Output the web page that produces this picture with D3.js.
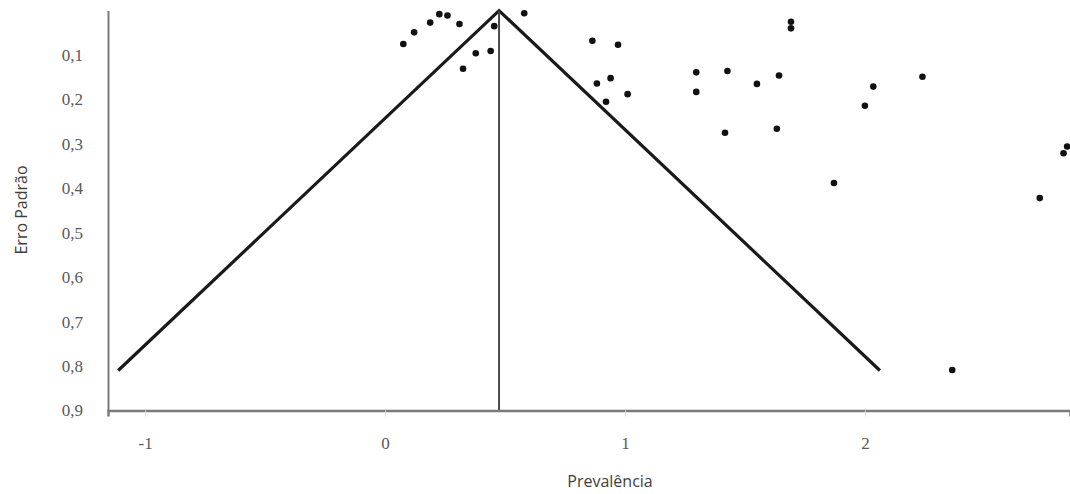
<!DOCTYPE html>
<html>
<head>
<meta charset="utf-8">
<script src="https://cdn.jsdelivr.net/npm/d3@7"></script>
<style>
  html, body { margin: 0; padding: 0; background: #fff; overflow: hidden; }
  svg { display: block; }
</style>
</head>
<body>
<svg id="chart" width="1070" height="494"></svg>
<script>
// Study estimates: prevalence (x) and standard error (y)
const prevalence = [
  0.076, 0.121, 0.188, 0.226, 0.26, 0.31, 0.455, 0.58, 0.378, 0.44, 0.325,
  0.864, 0.971, 0.883, 0.94, 1.011, 0.921, 1.297, 1.297, 1.427, 1.55, 1.642, 1.692, 1.692,
  1.417, 1.633,
  2.035, 2.0, 2.24, 1.871, 2.729, 2.828, 2.843, 2.364
];
const stdError = [
  0.075, 0.049, 0.027, 0.008, 0.011, 0.03, 0.035, 0.006, 0.096, 0.091, 0.131,
  0.068, 0.077, 0.164, 0.152, 0.188, 0.205, 0.139, 0.183, 0.136, 0.165, 0.146, 0.04, 0.025,
  0.275, 0.266,
  0.171, 0.214, 0.149, 0.388, 0.422, 0.321, 0.306, 0.809
];
const pooledMean = 0.475;
const funnelMaxSE = 0.81;
const xTicks = [-1, 0, 1, 2];
const yTicks = [0.1, 0.2, 0.3, 0.4, 0.5, 0.6, 0.7, 0.8, 0.9];

const svg = d3.select("#chart");
const margin = { left: 108, right: 0, top: 10.6, bottom: 83.5 };
const width = 1070, height = 494;

const x = d3.scaleLinear().domain([-1.155, 2.855]).range([margin.left, width - margin.right]);
const y = d3.scaleLinear().domain([0, 0.9]).range([margin.top, height - margin.bottom]);

const fmt = d => String(d).replace(".", ",");

// funnel
const funnel = [
  [pooledMean - 1.96 * funnelMaxSE, funnelMaxSE],
  [pooledMean, 0],
  [pooledMean + 1.96 * funnelMaxSE, funnelMaxSE]
];
svg.append("path")
  .attr("d", d3.line().x(d => x(d[0])).y(d => y(d[1]))(funnel))
  .attr("fill", "none")
  .attr("stroke", "#1a1a1a")
  .attr("stroke-width", 3.2);

// pooled mean line
svg.append("line")
  .attr("x1", x(pooledMean)).attr("x2", x(pooledMean))
  .attr("y1", y(0)).attr("y2", y(0.9))
  .attr("stroke", "#4a4a4a")
  .attr("stroke-width", 2);

// y axis
const yAxis = svg.append("g")
  .attr("transform", `translate(${margin.left},0)`)
  .attr("font-family", "Liberation Serif")
  .attr("font-size", 17)
  .call(d3.axisLeft(y).tickValues(yTicks).tickFormat(fmt).tickSize(0).tickPadding(25));
yAxis.attr("font-family", "Liberation Serif").attr("font-size", 17);
yAxis.select(".domain").attr("stroke", "#7a7a7a").attr("stroke-width", 2);
yAxis.selectAll(".tick text").attr("fill", "#595959");

// x axis
const xAxis = svg.append("g")
  .attr("transform", `translate(0,${y(0.9)})`)
  .call(d3.axisBottom(x).tickValues(xTicks).tickFormat(d => d).tickSize(6).tickPadding(20));
xAxis.attr("font-family", "Liberation Serif").attr("font-size", 17);
xAxis.select(".domain").attr("stroke", "#7a7a7a").attr("stroke-width", 2.5);
xAxis.selectAll(".tick line").attr("stroke", "#dcdcdc");
xAxis.selectAll(".tick text").attr("fill", "#595959");

// points
svg.append("g")
  .selectAll("circle")
  .data(prevalence.map((p, i) => [p, stdError[i]]))
  .join("circle")
  .attr("cx", d => x(d[0]))
  .attr("cy", d => y(d[1]))
  .attr("r", 3.3)
  .attr("fill", "#111");

// titles
svg.append("text")
  .attr("x", 610).attr("y", 487)
  .attr("text-anchor", "middle")
  .attr("font-family", "Open Sans")
  .attr("font-size", 16)
  .attr("fill", "#404040")
  .text("Prevalência");

svg.append("text")
  .attr("transform", "translate(27,210) rotate(-90)")
  .attr("text-anchor", "middle")
  .attr("font-family", "Open Sans")
  .attr("font-size", 16)
  .attr("fill", "#404040")
  .text("Erro Padrão");
</script>
</body>
</html>
